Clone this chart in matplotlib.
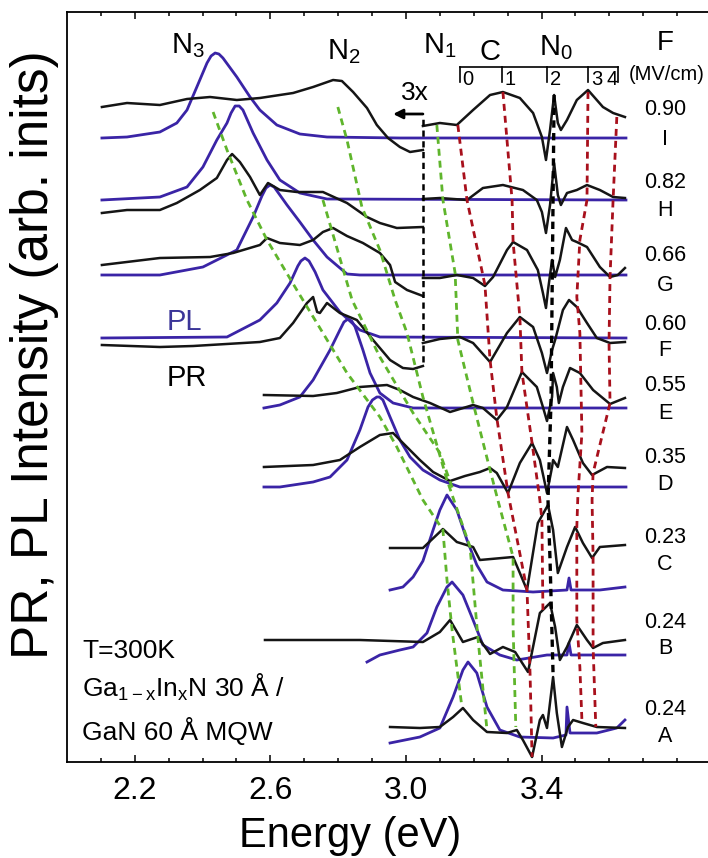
import matplotlib
matplotlib.use('Agg')
import matplotlib.pyplot as plt

plt.rcParams['font.family'] = ['Liberation Sans', 'DejaVu Sans']
plt.rcParams['mathtext.default'] = 'regular'

# ---- PR (black) and PL (blue) spectra, energy in eV, intensity in arb. units (offset) ----
# sample I, F = 0.90 MV/cm
pr_i_lo_e = [2.103, 2.177, 2.274, 2.354, 2.422, 2.501, 2.569, 2.667, 2.726, 2.785, 2.811, 2.844, 2.885, 2.914, 2.947, 2.982, 3.012, 3.050]
pr_i_lo_y = [655, 659, 657, 663, 665, 662, 664, 669, 675, 682, 681, 670, 654, 637, 624, 615, 610, 612]
pr_i_hi_e = [3.050, 3.100, 3.150, 3.198, 3.248, 3.286, 3.336, 3.375, 3.401, 3.413, 3.425, 3.437, 3.448, 3.457, 3.475, 3.504, 3.537, 3.581, 3.611, 3.646]
pr_i_hi_y = [636, 639, 637, 652, 667, 670, 664, 649, 625, 602, 632, 667, 639, 632, 642, 662, 672, 655, 649, 645]
pl_i_e = [2.103, 2.177, 2.274, 2.324, 2.354, 2.383, 2.413, 2.425, 2.437, 2.448, 2.460, 2.501, 2.540, 2.569, 2.619, 2.687, 2.767, 2.982, 3.649]
pl_i_y = [624, 625, 630, 639, 652, 675, 699, 706, 709, 708, 704, 685, 665, 652, 637, 628, 625, 624, 624]

# sample H, F = 0.82
pr_h_lo_e = [2.103, 2.177, 2.274, 2.324, 2.392, 2.442, 2.472, 2.487, 2.510, 2.540, 2.569, 2.593, 2.628, 2.678, 2.755, 2.826, 2.885, 2.923, 2.973, 3.050]
pr_h_lo_y = [549, 552, 552, 559, 572, 584, 602, 608, 600, 585, 567, 579, 572, 570, 570, 559, 545, 539, 534, 535]
pr_h_hi_e = [3.050, 3.100, 3.180, 3.227, 3.286, 3.345, 3.386, 3.401, 3.413, 3.425, 3.437, 3.448, 3.457, 3.475, 3.504, 3.534, 3.572, 3.611, 3.646]
pr_h_hi_y = [563, 564, 562, 574, 577, 572, 562, 550, 529, 557, 599, 567, 557, 569, 572, 577, 572, 565, 564]
pl_h_e = [2.103, 2.274, 2.354, 2.401, 2.442, 2.472, 2.484, 2.496, 2.508, 2.519, 2.549, 2.590, 2.628, 2.687, 2.767, 3.649]
pl_h_y = [562, 565, 575, 595, 622, 639, 649, 656, 656, 652, 629, 602, 582, 569, 563, 562]

# sample G, F = 0.66
pr_g_lo_e = [2.103, 2.274, 2.422, 2.490, 2.569, 2.590, 2.628, 2.687, 2.726, 2.755, 2.785, 2.826, 2.873, 2.923, 2.953, 2.968, 3.003, 3.050]
pr_g_lo_y = [497, 504, 505, 509, 517, 524, 519, 517, 522, 530, 534, 526, 519, 509, 497, 480, 472, 466]
pr_g_hi_e = [3.050, 3.100, 3.150, 3.198, 3.233, 3.257, 3.298, 3.316, 3.357, 3.389, 3.404, 3.413, 3.419, 3.431, 3.440, 3.454, 3.472, 3.490, 3.504, 3.534, 3.572, 3.602, 3.625, 3.646]
pr_g_hi_y = [484, 484, 487, 484, 476, 485, 512, 520, 512, 492, 469, 454, 472, 502, 485, 502, 534, 522, 520, 515, 495, 485, 487, 494]
pl_g_e = [2.103, 2.274, 2.401, 2.501, 2.549, 2.575, 2.587, 2.599, 2.611, 2.628, 2.649, 2.687, 2.726, 2.767, 2.826, 2.864, 3.649]
pl_g_y = [487, 487, 495, 512, 545, 566, 574, 577, 575, 567, 557, 540, 522, 505, 488, 487, 487]

# sample F, F = 0.60
pr_f_lo_e = [2.103, 2.274, 2.372, 2.569, 2.628, 2.667, 2.708, 2.726, 2.738, 2.746, 2.767, 2.805, 2.855, 2.903, 2.953, 2.991, 3.021, 3.050]
pr_f_lo_y = [417, 415, 416, 420, 424, 439, 459, 465, 450, 449, 459, 449, 442, 422, 402, 394, 393, 396]
pr_f_hi_e = [3.050, 3.100, 3.159, 3.198, 3.248, 3.298, 3.336, 3.375, 3.401, 3.416, 3.431, 3.440, 3.463, 3.481, 3.504, 3.534, 3.563, 3.602, 3.646]
pr_f_hi_y = [419, 423, 425, 419, 400, 429, 445, 435, 409, 389, 412, 422, 452, 462, 455, 439, 424, 419, 420]
pl_f_e = [2.103, 2.472, 2.569, 2.619, 2.658, 2.681, 2.690, 2.702, 2.714, 2.732, 2.755, 2.805, 2.864, 2.923, 3.649]
pl_f_y = [424, 425, 442, 459, 479, 496, 501, 504, 501, 490, 472, 450, 432, 425, 424]

# sample E, F = 0.55
pr_e_e = [2.581, 2.726, 2.796, 2.864, 2.944, 2.982, 3.021, 3.071, 3.130, 3.198, 3.227, 3.268, 3.298, 3.342, 3.386, 3.404, 3.416, 3.431, 3.434, 3.445, 3.451, 3.463, 3.484, 3.513, 3.552, 3.602, 3.646]
pr_e_y = [367, 366, 369, 375, 377, 372, 365, 359, 350, 357, 354, 342, 355, 390, 375, 355, 341, 365, 389, 375, 359, 375, 394, 389, 372, 358, 364]
pl_e_e = [2.581, 2.628, 2.687, 2.726, 2.776, 2.805, 2.817, 2.829, 2.840, 2.850, 2.873, 2.894, 2.923, 2.962, 3.021, 3.649]
pl_e_y = [354, 357, 365, 382, 412, 432, 440, 443, 441, 435, 412, 389, 369, 359, 354, 354]

# sample D, F = 0.35
pr_d_e = [2.581, 2.726, 2.805, 2.864, 2.923, 2.962, 2.991, 3.041, 3.080, 3.130, 3.174, 3.218, 3.248, 3.268, 3.301, 3.336, 3.372, 3.395, 3.416, 3.431, 3.434, 3.448, 3.475, 3.493, 3.522, 3.549, 3.593, 3.646]
pr_d_y = [295, 297, 302, 315, 327, 329, 319, 302, 290, 281, 286, 290, 294, 289, 269, 299, 319, 302, 269, 295, 302, 295, 335, 322, 299, 287, 295, 294]
pl_d_e = [2.581, 2.628, 2.726, 2.776, 2.826, 2.864, 2.888, 2.901, 2.914, 2.922, 2.932, 2.953, 2.982, 3.012, 3.050, 3.100, 3.159, 3.649]
pl_d_y = [275, 275, 280, 285, 302, 332, 355, 362, 365, 365, 362, 345, 322, 305, 292, 282, 275, 275]

# sample C, F = 0.23
pr_c_e = [2.953, 3.050, 3.109, 3.150, 3.198, 3.218, 3.316, 3.336, 3.357, 3.389, 3.419, 3.434, 3.448, 3.475, 3.499, 3.522, 3.549, 3.572, 3.646]
pr_c_y = [214, 214, 233, 220, 215, 202, 205, 189, 172, 239, 257, 232, 189, 215, 235, 219, 204, 215, 217]
pl_c_e = [2.953, 2.991, 3.021, 3.050, 3.080, 3.100, 3.121, 3.150, 3.180, 3.209, 3.239, 3.286, 3.375, 3.475, 3.481, 3.487, 3.572, 3.646]
pl_c_y = [172, 175, 185, 201, 232, 252, 267, 252, 222, 197, 180, 172, 170, 172, 184, 172, 172, 175]

# sample B, F = 0.24
pr_b_e = [2.584, 2.864, 3.050, 3.100, 3.130, 3.168, 3.212, 3.248, 3.286, 3.322, 3.360, 3.395, 3.425, 3.440, 3.454, 3.475, 3.504, 3.534, 3.552, 3.581, 3.646]
pr_b_y = [122, 122, 120, 130, 142, 120, 125, 108, 115, 110, 90, 149, 159, 135, 102, 115, 137, 122, 114, 119, 122]
pl_b_e = [2.885, 2.923, 2.982, 3.021, 3.062, 3.091, 3.121, 3.136, 3.168, 3.198, 3.227, 3.277, 3.327, 3.416, 3.475, 3.481, 3.487, 3.572, 3.646]
pl_b_y = [100, 107, 112, 115, 129, 155, 175, 180, 167, 142, 117, 107, 102, 107, 107, 119, 107, 107, 107]

# sample A, F = 0.24
pr_a_e = [2.953, 3.041, 3.100, 3.139, 3.168, 3.198, 3.239, 3.298, 3.327, 3.345, 3.372, 3.395, 3.404, 3.416, 3.434, 3.445, 3.460, 3.478, 3.493, 3.522, 3.563, 3.646]
pr_a_y = [35, 34, 35, 45, 54, 42, 30, 29, 32, 22, 5, 42, 47, 34, 85, 49, 15, 35, 42, 39, 35, 34]
pl_a_e = [2.953, 3.041, 3.100, 3.139, 3.168, 3.183, 3.209, 3.239, 3.277, 3.336, 3.434, 3.472, 3.475, 3.484, 3.563, 3.622, 3.646]
pl_a_y = [19, 25, 34, 65, 92, 100, 89, 55, 32, 25, 24, 27, 55, 29, 29, 34, 42]

samples = ['A', 'B', 'C', 'D', 'E', 'F', 'G', 'H', 'I']
fields = ['0.24', '0.24', '0.23', '0.35', '0.55', '0.60', '0.66', '0.82', '0.90']

# ---- guide lines following the transitions ----
n3_e = [2.431, 2.472, 2.531, 2.590, 2.678, 2.755, 2.826, 2.923, 2.973, 3.050, 3.109, 3.121, 3.136, 3.165]
n3_y = [650, 612, 562, 522, 472, 429, 389, 345, 315, 262, 232, 182, 132, 55]
nx_e = [2.755, 2.841, 2.923, 3.021, 3.100, 3.139]
nx_y = [562, 462, 405, 349, 309, 272]
n2_e = [2.799, 2.826, 2.870, 2.923, 2.968, 3.003, 3.050, 3.121, 3.189, 3.212, 3.239]
n2_y = [655, 622, 555, 512, 462, 429, 365, 282, 215, 125, 32]
n1_e = [3.091, 3.109, 3.145, 3.153, 3.198, 3.248, 3.271, 3.316, 3.316, 3.324]
n1_y = [637, 562, 489, 422, 359, 292, 262, 205, 135, 35]
n0_e = [3.437, 3.428, 3.419, 3.425, 3.434]
n0_y = [667, 362, 262, 202, 87]
c0_e = [3.153, 3.180, 3.233, 3.248, 3.268, 3.301, 3.357, 3.366, 3.372]
c0_y = [637, 562, 477, 402, 344, 269, 172, 89, 5]
c1_e = [3.286, 3.313, 3.316, 3.336, 3.342, 3.372, 3.395, 3.401, 3.404]
c1_y = [670, 562, 520, 445, 390, 319, 262, 242, 152]
c3_e = [3.537, 3.534, 3.513, 3.504, 3.513, 3.519, 3.507, 3.504, 3.504, 3.513, 3.519]
c3_y = [670, 562, 522, 465, 429, 329, 265, 235, 142, 95, 42]
c4_e = [3.622, 3.611, 3.602, 3.599, 3.602, 3.552, 3.549, 3.552, 3.552, 3.560]
c4_y = [645, 562, 485, 419, 359, 289, 262, 205, 115, 35]

# C-scale bracket ticks
c_tick_e = [3.159, 3.283, 3.416, 3.537, 3.625]
c_label_e = [3.183, 3.307, 3.442, 3.563, 3.608]
c_labels = ['0', '1', '2', '3', '4']

# ---- figure ----
fig = plt.figure(figsize=(7.08, 8.58), dpi=100)
ax = fig.add_axes([67 / 708, 96 / 858, 641 / 708, 750 / 858])
ax.set_xlim(2.0, 3.891)
ax.set_ylim(0, 750)

pr_col = '#151515'
pl_col = '#3a24a6'
green = '#5fb52c'
red = '#a8101c'

pr_sets = [(pr_i_lo_e, pr_i_lo_y), (pr_i_hi_e, pr_i_hi_y), (pr_h_lo_e, pr_h_lo_y), (pr_h_hi_e, pr_h_hi_y),
           (pr_g_lo_e, pr_g_lo_y), (pr_g_hi_e, pr_g_hi_y), (pr_f_lo_e, pr_f_lo_y), (pr_f_hi_e, pr_f_hi_y),
           (pr_e_e, pr_e_y), (pr_d_e, pr_d_y), (pr_c_e, pr_c_y), (pr_b_e, pr_b_y), (pr_a_e, pr_a_y)]
pl_sets = [(pl_i_e, pl_i_y), (pl_h_e, pl_h_y), (pl_g_e, pl_g_y), (pl_f_e, pl_f_y), (pl_e_e, pl_e_y),
           (pl_d_e, pl_d_y), (pl_c_e, pl_c_y), (pl_b_e, pl_b_y), (pl_a_e, pl_a_y)]

for e, y in pl_sets:
    ax.plot(e, y, color=pl_col, lw=2.0, solid_joinstyle='round')
for e, y in pr_sets:
    ax.plot(e, y, color=pr_col, lw=1.8, solid_joinstyle='round')

for e, y in [(n3_e, n3_y), (nx_e, nx_y), (n2_e, n2_y), (n1_e, n1_y)]:
    ax.plot(e, y, color=green, lw=2.0, dashes=(2.5, 1.8))
for e, y in [(c0_e, c0_y), (c1_e, c1_y), (c3_e, c3_y), (c4_e, c4_y)]:
    ax.plot(e, y, color=red, lw=2.0, dashes=(2.5, 1.8))
ax.plot(n0_e, n0_y, color='k', lw=2.4, dashes=(2.2, 1.6))

# 3x scaling marker
ax.plot([3.05, 3.05], [400, 647], color='k', lw=1.8, dashes=(2.5, 1.8))
ax.annotate('', xy=(2.962, 648), xytext=(3.05, 648),
            arrowprops=dict(arrowstyle='-|>', color='k', lw=2, mutation_scale=14, shrinkA=0, shrinkB=0))
ax.text(3.027, 669, '3x', fontsize=19, ha='center', va='center')

# C bracket
ax.plot([c_tick_e[0], c_tick_e[-1]], [695, 695], color='k', lw=1.2)
for e in c_tick_e:
    ax.plot([e, e], [695, 680], color='k', lw=1.2)
for e, s in zip(c_label_e, c_labels):
    ax.text(e, 677, s, fontsize=14.5, ha='center', va='baseline')

# transition labels
ax.text(2.307, 709, 'N$_3$', fontsize=21, va='baseline')
ax.text(2.767, 703, 'N$_2$', fontsize=21, va='baseline')
ax.text(3.050, 709, 'N$_1$', fontsize=21, va='baseline')
ax.text(3.218, 702, 'C', fontsize=21, va='baseline')
ax.text(3.392, 707, 'N$_0$', fontsize=21, va='baseline')
ax.text(3.764, 712, 'F', fontsize=20, ha='center', va='baseline')
ax.text(3.770, 687, '(MV/cm)', fontsize=14.5, ha='center', va='center')

# field values and sample letters
field_base = [47, 134, 219, 299, 371, 432, 501, 574, 647]
letter_base = [20, 108, 192, 272, 343, 406, 471, 546, 617]
for s, f, yb, yl in zip(samples, fields, field_base, letter_base):
    ax.text(3.764, yb, f, fontsize=15.5, ha='center', va='baseline')
    ax.text(3.764, yl, s, fontsize=15.5, ha='center', va='baseline')

ax.text(2.295, 432, 'PL', fontsize=21, color='#3b3598', va='baseline')
ax.text(2.295, 376, 'PR', fontsize=21, color='k', va='baseline')

ax.text(2.044, 104, 'T=300K', fontsize=19, va='baseline')
ax.text(2.044, 65, 'Ga$_{1-x}$In$_x$N 30 Å /', fontsize=19, va='baseline')
ax.text(2.044, 22, 'GaN 60 Å MQW', fontsize=19, va='baseline')

# axes styling
for side in ['left', 'top', 'bottom']:
    ax.spines[side].set_linewidth(1.3)
ax.spines['right'].set_visible(False)
ax.set_yticks([])
ax.set_xticks([2.2, 2.6, 3.0, 3.4])
ax.set_xticks([2.1, 2.3, 2.4, 2.5, 2.7, 2.8, 2.9, 3.1, 3.2, 3.3, 3.5, 3.6, 3.7, 3.8], minor=True)
ax.set_xticklabels(['2.2', '2.6', '3.0', '3.4'])
ax.tick_params(axis='x', which='major', direction='in', length=5, width=1.1, labelsize=23, pad=10, top=True)
ax.tick_params(axis='x', which='minor', direction='in', length=3, width=1.1, top=True)

fig.text(350 / 708, 1 - 836 / 858, 'Energy (eV)', fontsize=30, ha='center', va='center')
fig.text(35 / 708, 1 - 355 / 858, 'PR, PL Intensity (arb. inits)', fontsize=37, rotation=90,
         ha='center', va='center')

fig.savefig('out.png', dpi=100)
